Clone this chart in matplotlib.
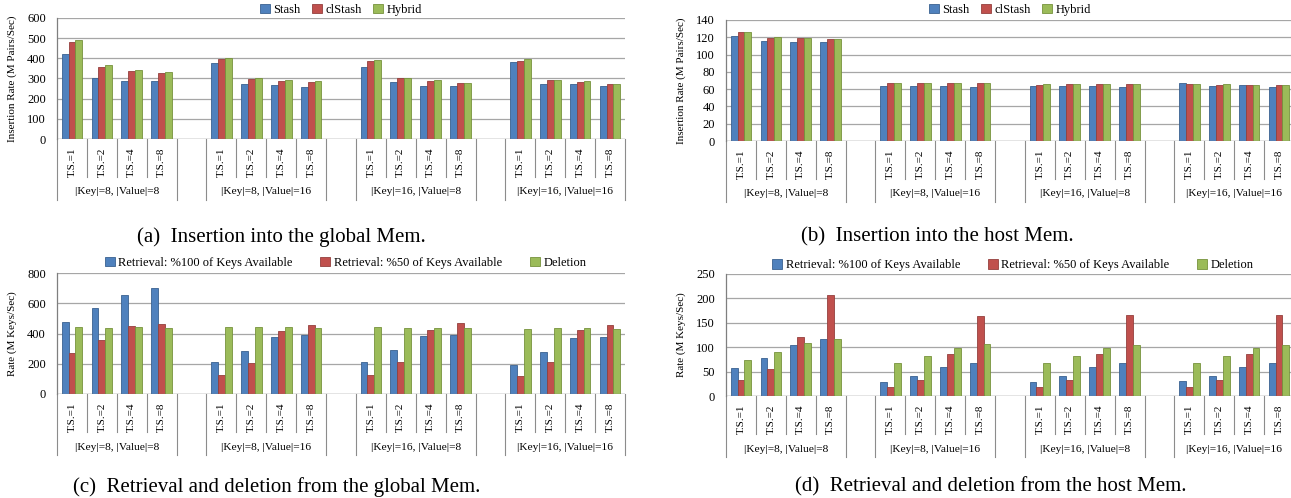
import matplotlib
matplotlib.use("Agg")
import matplotlib.pyplot as plt
import numpy as np

plt.rcParams['font.family'] = ['Liberation Serif', 'DejaVu Serif']

groups = ["|Key|=8, |Value|=8", "|Key|=8, |Value|=16", "|Key|=16, |Value|=8", "|Key|=16, |Value|=16"]
ts_labels = ["T.S.=1", "T.S.=2", "T.S.=4", "T.S.=8"]

# (a) Insertion into global memory (M Pairs/Sec), per group x T.S.
a_stash   = [423, 304, 289, 286,  378, 271, 269, 260,  355, 281, 261, 264,  383, 274, 274, 264]
a_clstash = [483, 359, 339, 326,  398, 299, 289, 284,  388, 302, 289, 279,  388, 294, 284, 274]
a_hybrid  = [493, 369, 344, 334,  403, 304, 294, 289,  393, 302, 294, 279,  397, 294, 289, 274]

# (b) Insertion into host memory
b_stash   = [121.5, 115.7, 114.5, 114.5,  63.6, 63.6, 63.6, 62.5,  64.0, 63.2, 63.2, 62.5,  67.1, 63.2, 64.4, 62.0]
b_clstash = [125.7, 119.2, 119.2, 117.7,  67.1, 67.5, 67.0, 67.0,  64.4, 66.0, 65.6, 65.6,  65.6, 64.8, 64.4, 64.8]
b_hybrid  = [125.7, 120.0, 118.8, 117.7,  67.1, 67.5, 67.0, 67.0,  66.0, 66.0, 65.6, 65.6,  66.3, 65.6, 64.4, 64.4]

# (c) Retrieval / deletion, global memory (M Keys/Sec)
c_ret100 = [475, 569, 656, 698,  210, 283, 380, 391,  210, 290, 382, 389,  190, 278, 369, 376]
c_ret50  = [270, 360, 449, 464,  126, 206, 418, 455,  124, 210, 422, 471,  119, 210, 422, 455]
c_del    = [444, 438, 442, 438,  444, 442, 442, 438,  442, 435, 438, 435,  429, 435, 435, 433]

# (d) Retrieval / deletion, host memory
d_ret100 = [57.5, 77.4, 104.8, 117.8,  29.5, 41.8, 58.9, 68.5,  29.5, 41.8, 59.6, 68.5,  30.0, 41.8, 60.3, 68.5]
d_ret50  = [32.9, 55.5, 121.9, 206.8,  17.8, 32.9, 86.3, 163.0,  17.8, 32.9, 87.0, 167.0,  18.5, 33.6, 86.3, 165.8]
d_del    = [74.7, 91.1, 108.9, 115.8,  67.1, 82.9, 99.3, 106.2,  67.1, 82.9, 99.3, 105.5,  67.1, 82.9, 99.3, 105.5]

ins_names = ["Stash", "clStash", "Hybrid"]
ret_names = ["Retrieval: %100 of Keys Available", "Retrieval: %50 of Keys Available", "Deletion"]

colors = ["#4F81BD", "#C0504D", "#9BBB59"]
edges = ["#3A6190", "#94403D", "#76923C"]

W, H = 1291, 498
fig = plt.figure(figsize=(W / 100, H / 100), dpi=100)


def px_axes(left, top, right, bottom):
    return fig.add_axes([left / W, 1 - bottom / H, (right - left) / W, (bottom - top) / H])


def panel(ax, series, names, ymax, ystep, ylabel, leg_y, colsp, leg_x=0.5):
    n_slots = 19
    slot_pos = np.array([g * 5 + i + 0.5 for g in range(4) for i in range(4)])
    bw = 0.23
    handles = []
    for k, (vals, name) in enumerate(zip(series, names)):
        h = ax.bar(slot_pos + (k - 1) * bw, vals, width=bw, color=colors[k],
                   edgecolor=edges[k], linewidth=0.6, label=name, zorder=3)
        handles.append(h)
    ax.set_xlim(0, n_slots)
    ax.set_ylim(0, ymax)
    ax.set_yticks(np.arange(0, ymax + 1, ystep))
    ax.tick_params(axis='y', labelsize=9, length=0, pad=8)
    ax.yaxis.grid(True, color="#A6A6A6", linewidth=0.9, zorder=0)
    ax.set_axisbelow(True)
    for s in ["top", "right", "bottom"]:
        ax.spines[s].set_visible(False)
    ax.spines["left"].set_color("#7F7F7F")
    ax.spines["left"].set_linewidth(0.9)
    ax.axhline(0, color="#7F7F7F", linewidth=0.9, zorder=4)
    ax.set_xticks(slot_pos)
    ax.set_xticklabels(ts_labels * 4, rotation=90, fontsize=8)
    ax.tick_params(axis='x', length=0, pad=6)
    ax.set_ylabel(ylabel, fontsize=8, labelpad=7)

    hpx = ax.get_position().height * H
    short = -38 / hpx
    long_ = -61 / hpx
    trans = ax.get_xaxis_transform()
    for b in range(n_slots + 1):
        is_long = (b % 5 == 0) or (b % 5 == 4)
        ax.plot([b, b], [0, long_ if is_long else short], transform=trans,
                color="#8C8C8C", linewidth=0.8, clip_on=False)
    for g, name in enumerate(groups):
        ax.text(g * 5 + 2, -53 / hpx, name, transform=trans, ha="center", va="center",
                fontsize=8.2)
    ax.legend(handles=handles, loc="center", bbox_to_anchor=(leg_x, leg_y),
              ncol=3, frameon=False, fontsize=9, handlelength=0.8, handleheight=0.8,
              handletextpad=0.3, columnspacing=colsp, borderaxespad=0)
    return ax


ax_a = px_axes(57, 18, 625, 139)
panel(ax_a, [a_stash, a_clstash, a_hybrid], ins_names, 600, 100,
      "Insertion Rate (M Pairs/Sec)", 1 + 8 / 121, 0.9)

ax_b = px_axes(726, 20, 1294, 141)
panel(ax_b, [b_stash, b_clstash, b_hybrid], ins_names, 140, 20,
      "Insertion Rate (M Pairs/Sec)", 1 + 10 / 121, 0.9)

ax_c = px_axes(57, 273, 625, 394)
panel(ax_c, [c_ret100, c_ret50, c_del], ret_names, 800, 200,
      "Rate (M Keys/Sec)", 1 + 10 / 121, 2.2, 0.508)

ax_d = px_axes(726, 274, 1294, 396)
panel(ax_d, [d_ret100, d_ret50, d_del], ret_names, 250, 50,
      "Rate (M Keys/Sec)", 1 + 9 / 122, 2.2, 0.505)

cap_kw = dict(ha="center", va="center", fontsize=15)
fig.text(281 / W, 1 - 237 / H, "(a)  Insertion into the global Mem.", **cap_kw)
fig.text(937 / W, 1 - 237 / H, "(b)  Insertion into the host Mem.", **cap_kw)
fig.text(277 / W, 1 - 487 / H, "(c)  Retrieval and deletion from the global Mem.", **cap_kw)
fig.text(991 / W, 1 - 487 / H, "(d)  Retrieval and deletion from the host Mem.", **cap_kw)

fig.savefig("out.png", dpi=100)
